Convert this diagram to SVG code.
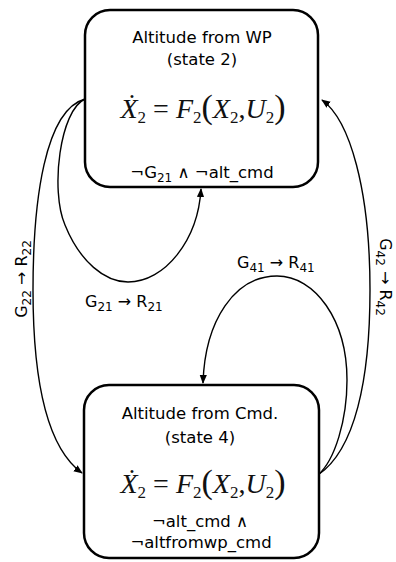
<svg xmlns="http://www.w3.org/2000/svg" width="396" height="562" viewBox="0 0 396 562">
<style>
.box{fill:#fff;stroke:#000;stroke-width:2.5}
.t{font-family:"DejaVu Sans","Liberation Sans",sans-serif;font-size:16.5px;fill:#000;text-anchor:middle}
.lb{font-family:"DejaVu Sans","Liberation Sans",sans-serif;font-size:16px;fill:#000}
.eq{font-family:"Liberation Serif","DejaVu Serif",serif;font-size:28px;fill:#111;text-anchor:middle}
.it{font-style:italic}
.sub{font-size:17px;font-style:normal}
.par{font-size:34px;font-style:normal}
.c{fill:none;stroke:#000;stroke-width:1.4}
</style>
<defs>
<marker id="ah" viewBox="0 0 10 10" refX="9" refY="5" markerWidth="9" markerHeight="9" markerUnits="userSpaceOnUse" orient="auto">
<path d="M0,1 L10,5 L0,9 Z" fill="#000"/>
</marker>
</defs>
<g id="connectors">
<path class="c" d="M85,99 C60,110 50,190 65,225 C80,262 105,282 128,282 C165,282 198,240 201,189" marker-end="url(#ah)"/>
<path class="c" d="M85,99 C45,110 33,200 33,290 C33,390 50,450 82,473" marker-end="url(#ah)"/>
<path class="c" d="M318,475 C335,460 347,420 347,380 C347,320 315,276 277,276 C235,276 205,320 203,383" marker-end="url(#ah)"/>
<path class="c" d="M318,475 C355,450 370,380 370,290 C370,190 350,120 322,100" marker-end="url(#ah)"/>
<text class="lb" x="85" y="307">G<tspan dy="4" font-size="12">21</tspan><tspan dy="-4"> → R</tspan><tspan dy="4" font-size="12">21</tspan></text>
<text class="lb" x="237" y="268">G<tspan dy="4" font-size="12">41</tspan><tspan dy="-4"> → R</tspan><tspan dy="4" font-size="12">41</tspan></text>
<text class="lb" text-anchor="middle" transform="translate(27,279) rotate(-90)">G<tspan dy="4" font-size="12">22</tspan><tspan dy="-4"> → R</tspan><tspan dy="4" font-size="12">22</tspan></text>
<text class="lb" text-anchor="middle" transform="translate(380,277) rotate(90)">G<tspan dy="4" font-size="12">42</tspan><tspan dy="-4"> → R</tspan><tspan dy="4" font-size="12">42</tspan></text>
</g>
<g id="state2">
<rect class="box" x="85" y="10" width="233" height="177" rx="25"/>
<text class="t" x="202" y="43">Altitude from WP</text>
<text class="t" x="202" y="65">(state 2)</text>
<text class="eq" x="203" y="118"><tspan class="it">Ẋ</tspan><tspan class="sub" dy="5">2</tspan><tspan dy="-5"> = </tspan><tspan class="it">F</tspan><tspan class="sub" dy="5">2</tspan><tspan dy="-5" class="par">(</tspan><tspan class="it">X</tspan><tspan class="sub" dy="5">2</tspan><tspan dy="-5">,</tspan><tspan class="it">U</tspan><tspan class="sub" dy="5">2</tspan><tspan dy="-5" class="par">)</tspan></text>
<text class="t" x="202" y="178">¬G<tspan dy="4" font-size="12">21</tspan><tspan dy="-4"> ∧ ¬alt_cmd</tspan></text>
</g>
<g id="state4">
<rect class="box" x="84" y="385" width="235" height="173" rx="25"/>
<text class="t" x="200" y="419">Altitude from Cmd.</text>
<text class="t" x="200" y="443">(state 4)</text>
<text class="eq" x="203" y="493"><tspan class="it">Ẋ</tspan><tspan class="sub" dy="5">2</tspan><tspan dy="-5"> = </tspan><tspan class="it">F</tspan><tspan class="sub" dy="5">2</tspan><tspan dy="-5" class="par">(</tspan><tspan class="it">X</tspan><tspan class="sub" dy="5">2</tspan><tspan dy="-5">,</tspan><tspan class="it">U</tspan><tspan class="sub" dy="5">2</tspan><tspan dy="-5" class="par">)</tspan></text>
<text class="t" x="200" y="527">¬alt_cmd ∧</text>
<text class="t" x="201" y="548">¬altfromwp_cmd</text>
</g>
</svg>
